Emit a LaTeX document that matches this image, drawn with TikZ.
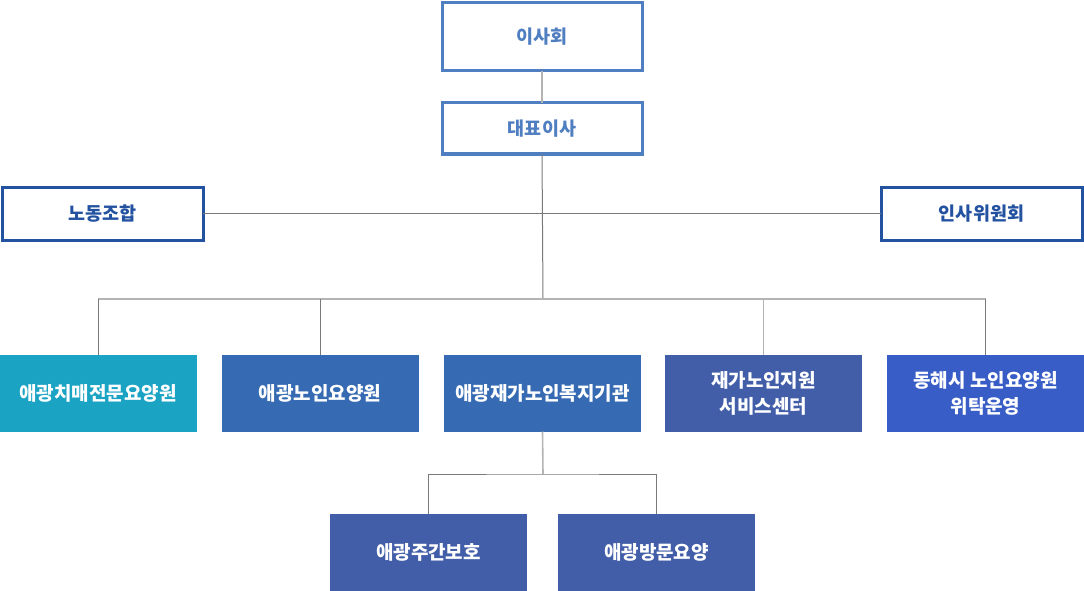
\documentclass[tikz,border=0pt]{standalone}
\usepackage{fontspec}
\newfontfamily\kr{Noto Sans CJK KR}
\definecolor{topblue}{HTML}{4F7EC1}
\definecolor{darkblue}{HTML}{2352A0}
\definecolor{cyanbox}{HTML}{1BA3C4}
\definecolor{midblue}{HTML}{366BB3}
\definecolor{slateblue}{HTML}{425EA8}
\definecolor{brightblue}{HTML}{385DC6}
\definecolor{lightline}{HTML}{B4B4B4}
\definecolor{darkline}{HTML}{7A7A7A}
\tikzset{
  topbox/.style={draw=topblue, line width=3pt, fill=white, text=topblue, inner sep=0pt, outer sep=0pt, minimum width=200pt, font=\kr\bfseries\fontsize{18.5pt}{22pt}\selectfont},
  sidebox/.style={draw=darkblue, line width=3pt, fill=white, text=darkblue, inner sep=0pt, outer sep=0pt, minimum width=201pt, minimum height=53pt, font=\kr\bfseries\fontsize{18.5pt}{22pt}\selectfont},
  unitbox/.style={draw=none, text=white, inner sep=0pt, outer sep=0pt, minimum width=197pt, minimum height=77pt, align=center, font=\kr\bfseries\fontsize{19pt}{26pt}\selectfont},
  lline/.style={draw=lightline, line width=1.6pt},
  dline/.style={draw=darkline, line width=1pt}
}
\begin{document}
\begin{tikzpicture}[x=1pt,y=-1pt]
\useasboundingbox (0,0) rectangle (1084,591);
\node[topbox, minimum height=68pt] (board) at (542,37) {이사회};
\node[topbox, minimum height=51pt] (ceo) at (542,128.5) {대표이사};
\node[sidebox] (union) at (102.5,213.5) {노동조합};
\node[sidebox] (hr) at (981.5,213.5) {인사위원회};
\node[unitbox, fill=cyanbox] (u1) at (98,393) {애광치매전문요양원};
\node[unitbox, fill=midblue] (u2) at (320,393) {애광노인요양원};
\node[unitbox, fill=midblue] (u3) at (542.5,393) {애광재가노인복지기관};
\node[unitbox, fill=slateblue] (u4) at (763.5,393) {재가노인지원\\서비스센터};
\node[unitbox, fill=brightblue] (u5) at (985.5,393) {동해시 노인요양원\\위탁운영};
\node[unitbox, fill=slateblue] (s1) at (428.5,552) {애광주간보호};
\node[unitbox, fill=slateblue] (s2) at (656.5,552) {애광방문요양};
\coordinate (j) at (543,299);
\coordinate (k) at (543,474);
\begin{scope}[on background layer/.try]
\draw[lline] (board.south) -- (ceo.north);
\draw[dline] (ceo.south) -- (j);
\draw[dline] (union.east) -- (hr.west);
\draw[lline] (u1.north |- j) -- (u5.north |- j);
\draw[dline] (u1.north) -- (u1.north |- j);
\draw[dline] (u2.north) -- (u2.north |- j);
\draw[dline] (u5.north) -- (u5.north |- j);
\draw[lline] (u4.north) -- (u4.north |- j);
\draw[lline] (u3.south) -- (k);
\draw[dline] (s1.north) |- (k) -| (s2.north);
\end{scope}
\end{tikzpicture}
\end{document}
